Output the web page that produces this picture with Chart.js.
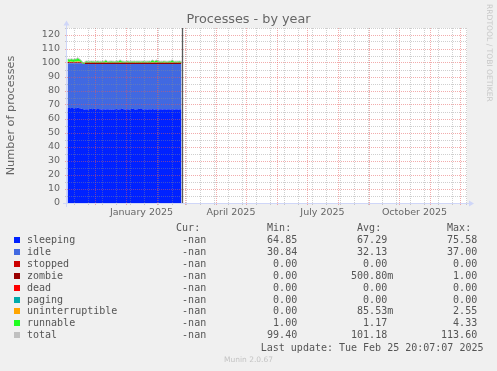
<!DOCTYPE html>
<html><head><meta charset="utf-8">
<script src="https://cdn.jsdelivr.net/npm/chart.js@4.4.1/dist/chart.umd.min.js"></script>
<style>
html,body{margin:0;padding:0;background:#f0f0f0;}
#wrap{position:relative;width:497px;height:371px;overflow:hidden;background:#f0f0f0;}
#c{position:absolute;left:0;top:0;}
.t{position:absolute;white-space:pre;}
#title{left:0;width:497px;top:10px;text-align:center;font-family:"DejaVu Sans";font-size:12.8px;line-height:18px;color:#666;}
#rrd{position:absolute;left:484.5px;top:4px;writing-mode:vertical-rl;font-family:"DejaVu Sans";font-size:7.6px;line-height:8px;color:#c8c8c8;white-space:pre;}
.lg{font-family:"DejaVu Sans Mono";font-size:10px;line-height:12px;height:12px;color:#555;}
.sq{position:absolute;width:6px;height:6px;}
#munin{left:0;width:497px;text-align:center;top:355px;font-family:"DejaVu Sans";font-size:7.5px;line-height:10px;color:#c4c4c4;}
</style>
</head><body>
<div id="wrap">
<canvas id="c" width="497" height="371" style="width:497px;height:371px"></canvas>
<div id="title" class="t">Processes - by year</div>
<div id="rrd">RRDTOOL / TOBI OETIKER</div>
<div id="legend"></div>
<div id="munin" class="t">Munin 2.0.67</div>
</div>
<script>
// ---- time axis ----
const axisStart = '2024-11-03';
const axisEnd = '2025-12-08';
const firstSample = '2024-11-03';
const lastUpdate = '2025-02-25T20:07:07Z';
const lastUpdateText = 'Last update: Tue Feb 25 20:07:07 2025';
const monthStarts = ['2024-12-01','2025-01-01','2025-02-01','2025-03-01','2025-04-01','2025-05-01','2025-06-01','2025-07-01','2025-08-01','2025-09-01','2025-10-01','2025-11-01','2025-12-01'];
const labelMonths = ['2025-01','2025-04','2025-07','2025-10'];
const labelTexts = ['January 2025','April 2025','July 2025','October 2025'];
const minorGridStart = '2024-11-10';
const minorGridStepDays = 14;
const yTickLabels = [0,10,20,30,40,50,60,70,80,90,100,110,120];

// ---- daily series (one value per day from firstSample) ----
const sleeping = [67.9,68.0,67.8,67.7,67.9,67.8,67.6,67.7,67.8,67.7,68.3,67.9,67.6,67.7,67.4,67.2,
66.9,66.8,66.9,67.0,66.9,66.8,67.2,67.3,67.1,66.9,
67.2,67.3,67.0,66.9,67.1,67.2,67.0,66.9,66.8,66.9,
67.0,66.9,66.8,66.9,67.0,66.9,66.8,66.9,66.8,66.9,
66.8,66.9,67.0,67.1,66.9,66.8,66.9,67.0,67.2,67.3,
67.0,66.9,66.8,66.9,67.0,66.9,66.8,66.9,67.2,67.3,
67.1,66.9,66.8,66.9,67.0,67.1,67.3,67.2,67.1,66.9,
66.8,66.9,67.0,66.9,66.8,66.9,67.0,66.9,66.8,67.1,
66.9,66.8,66.9,67.0,66.9,66.8,66.9,67.0,66.9,66.8,
66.9,67.0,66.9,66.8,66.9,67.0,66.9,66.8,66.9,67.0,
66.9,66.8,66.9,67.0,66.9,66.8,66.9,67.0,66.9];
const idle = [31.9,31.8,32.0,32.1,31.9,32.0,32.2,32.1,32.0,32.1,31.6,31.9,32.2,32.1,32.3,32.2,
32.3,32.4,32.3,32.2,32.3,32.4,32.0,31.9,32.1,32.3,
32.0,31.9,32.2,32.3,32.1,32.0,32.2,32.3,32.4,32.3,
32.2,32.3,32.4,32.3,32.2,32.3,32.4,32.3,32.4,32.3,
32.4,32.3,32.2,32.1,32.3,32.4,32.3,32.2,32.0,31.9,
32.2,32.3,32.4,32.3,32.2,32.3,32.4,32.3,32.0,31.9,
32.1,32.3,32.4,32.3,32.2,32.1,31.9,32.0,32.1,32.3,
32.4,32.3,32.2,32.3,32.4,32.3,32.2,32.3,32.4,32.1,
32.3,32.4,32.3,32.2,32.3,32.4,32.3,32.2,32.3,32.4,
32.3,32.2,32.3,32.4,32.3,32.2,32.3,32.4,32.3,32.2,
32.3,32.4,32.3,32.2,32.3,32.4,32.3,32.2,32.3];
const stopped = [0,0,0,0,0,0,0,0,0,0,0,0,0,0,0,0,0,0,0,0,0,0,0,0,0,0,0,0,0,0,0,0,0,0,0,0,0,0,0,0,
0,0,0,0,0,0,0,0,0,0,0,0,0,0,0,0,0,0,0,0,0,0,0,0,0,0,0,0,0,0,0,0,0,0,0,0,0,0,0,0,
0,0,0,0,0,0,0,0,0,0,0,0,0,0,0,0,0,0,0,0,0,0,0,0,0,0,0,0,0,0,0,0,0,0,0];
const zombie = [0.8,0.9,0.7,0.8,0.9,0.8,0.7,0.8,0.9,0.8,0.7,0.8,0.9,0.8,0.4,0.2,
0.0,0.3,1.0,1.0,1.0,0.9,1.0,1.0,1.0,1.0,
1.0,1.0,1.0,0.9,1.0,1.0,1.0,1.0,0.9,1.0,
1.0,1.0,1.0,1.0,0.9,1.0,1.0,1.0,1.0,1.0,
1.0,0.9,1.0,1.0,1.0,1.0,1.0,0.9,1.0,1.0,
1.0,1.0,0.9,1.0,1.0,1.0,1.0,1.0,1.0,0.9,
1.0,1.0,1.0,1.0,0.9,1.0,1.0,1.0,1.0,1.0,
1.0,0.9,1.0,1.0,1.0,1.0,1.0,0.9,1.0,1.0,
1.0,1.0,0.9,1.0,1.0,1.0,1.0,1.0,1.0,0.9,
1.0,1.0,1.0,1.0,0.9,1.0,1.0,1.0,1.0,1.0,
1.0,0.9,1.0,1.0,1.0,1.0,1.0,0.9,1.0];
const dead = [0,0,0,0,0,0,0,0,0,0,0,0,0,0,0,0,0,0,0,0,0,0,0,0,0,0,0,0,0,0,0,0,0,0,0,0,0,0,0,0,
0,0,0,0,0,0,0,0,0,0,0,0,0,0,0,0,0,0,0,0,0,0,0,0,0,0,0,0,0,0,0,0,0,0,0,0,0,0,0,0,
0,0,0,0,0,0,0,0,0,0,0,0,0,0,0,0,0,0,0,0,0,0,0,0,0,0,0,0,0,0,0,0,0,0,0];
const paging = [0,0,0,0,0,0,0,0,0,0,0,0,0,0,0,0,0,0,0,0,0,0,0,0,0,0,0,0,0,0,0,0,0,0,0,0,0,0,0,0,
0,0,0,0,0,0,0,0,0,0,0,0,0,0,0,0,0,0,0,0,0,0,0,0,0,0,0,0,0,0,0,0,0,0,0,0,0,0,0,0,
0,0,0,0,0,0,0,0,0,0,0,0,0,0,0,0,0,0,0,0,0,0,0,0,0,0,0,0,0,0,0,0,0,0,0];
const uninterruptible = [0.3,0.2,0.3,0.4,0.2,0.3,0.2,0.3,0.4,0.3,0.6,0.5,0.3,0.2,0.1,0.1,
0.05,0.05,0.1,0.05,0.05,0.05,0.05,0.1,0.05,0.05,
0.05,0.05,0.05,0.1,0.05,0.05,0.05,0.05,0.05,0.1,
0.05,0.05,0.2,0.1,0.05,0.05,0.05,0.05,0.05,0.05,
0.05,0.1,0.05,0.05,0.05,0.05,0.1,0.2,0.05,0.05,
0.05,0.05,0.05,0.05,0.1,0.05,0.05,0.05,0.05,0.05,
0.05,0.05,0.1,0.05,0.05,0.05,0.05,0.05,0.1,0.05,
0.05,0.05,0.05,0.05,0.1,0.05,0.05,0.05,0.1,0.2,
0.1,0.05,0.1,0.2,0.05,0.05,0.05,0.05,0.05,0.05,
0.05,0.1,0.05,0.05,0.05,0.05,0.05,0.05,0.1,0.2,
0.05,0.05,0.05,0.05,0.1,0.05,0.05,0.05,0.05];
const runnable = [1.8,2.0,1.9,1.7,2.1,1.8,1.9,2.0,1.8,1.9,2.6,2.2,1.8,1.6,1.2,1.1,
1.0,0.9,1.0,1.1,1.0,0.9,1.0,1.0,1.1,1.0,
1.0,0.9,1.0,1.0,1.1,1.0,0.9,1.0,1.0,1.1,
1.0,1.0,1.7,1.5,1.0,0.9,1.0,1.0,1.1,1.0,
1.0,0.9,1.0,1.0,1.1,1.0,1.6,1.8,1.2,1.0,
1.0,0.9,1.0,1.0,1.1,1.0,0.9,1.0,1.0,1.1,
1.0,1.0,0.9,1.0,1.1,1.0,1.0,0.9,1.0,1.0,
1.1,1.0,1.0,0.9,1.0,1.0,1.1,1.0,1.5,1.7,
1.4,1.0,1.6,1.8,1.2,1.0,1.0,0.9,1.0,1.0,
1.1,1.0,1.0,0.9,1.0,1.0,1.1,1.0,1.6,1.7,
1.2,1.0,1.0,0.9,1.0,1.0,1.1,1.0,1.0];
const total = [102.7,102.9,102.7,102.7,103.0,102.7,102.6,102.9,102.9,102.8,103.8,103.3,102.8,102.4,101.4,100.8,
100.3,100.5,101.3,101.4,101.3,101.1,101.3,101.3,101.4,101.3,
101.4,101.2,101.3,101.2,101.4,101.4,101.2,101.3,101.2,101.4,
101.3,101.4,102.0,101.8,101.2,101.2,101.3,101.4,101.4,101.3,
101.3,101.1,101.3,101.4,101.4,101.3,101.9,102.0,101.5,101.4,
101.3,101.2,101.2,101.3,101.4,101.4,101.2,101.3,101.3,101.3,
101.3,101.4,101.2,101.3,101.3,101.3,101.3,101.3,101.3,101.3,
101.4,101.2,101.3,101.3,101.3,101.3,101.4,101.2,101.8,102.1,
101.7,101.3,101.8,102.1,101.5,101.4,101.3,101.2,101.3,101.2,
101.4,101.4,101.3,101.2,101.2,101.3,101.4,101.4,101.9,102.0,
101.5,101.2,101.3,101.3,101.3,101.3,101.4,101.2,101.3];

// ---- legend table ----
const seriesNames = ['sleeping','idle','stopped','zombie','dead','paging','uninterruptible','runnable','total'];
const curVals = ['-nan','-nan','-nan','-nan','-nan','-nan','-nan','-nan','-nan'];
const minVals = ['64.85','30.84','0.00','0.00','0.00','0.00','0.00','1.00','99.40'];
const avgVals = ['67.29','32.13','0.00','500.80m','0.00','0.00','85.53m','1.17','101.18'];
const maxVals = ['75.58','37.00','0.00','1.00','0.00','0.00','2.55','4.33','113.60'];
const colHeads = ['Cur:','Min:','Avg:','Max:'];

// ---- styles (kept apart from data) ----
const seriesColors = ['#0022ff','#4169e1','#cc0000','#990000','#ff0000','#00aaaa','#ffa500','#22ff22','#c0c0c0'];

const DAY = 86400000;
const t0 = Date.parse(axisStart + 'T00:00:00Z');
const dayOf = s => (Date.parse(s.length === 10 ? s + 'T00:00:00Z' : s) - t0) / DAY;
const xMax = dayOf(axisEnd);
const firstX = dayOf(firstSample);

const xTickInfo = new Map();
for (let d = dayOf(minorGridStart); d <= xMax; d += minorGridStepDays) xTickInfo.set(d, {type: 'minor', label: ''});
monthStarts.forEach(s => xTickInfo.set(dayOf(s), {type: 'major', label: ''}));
labelMonths.forEach((m, i) => {
  const [y, mo] = m.split('-').map(Number);
  const a = (Date.UTC(y, mo - 1, 1) - t0) / DAY, b = (Date.UTC(y, mo, 1) - t0) / DAY;
  xTickInfo.set((a + b) / 2, {type: 'label', label: labelTexts[i]});
});
const xTickValues = [...xTickInfo.keys()].sort((a, b) => a - b);

const MGRID = 'rgba(230,90,90,0.5)';
const GRID = 'rgba(140,140,140,0.42)';

const stackSeries = [sleeping, idle, stopped, zombie, dead, paging, uninterruptible, runnable];
const toPts = arr => arr.map((v, i) => ({x: firstX + i + 0.5, y: v}));
const datasets = stackSeries.map((arr, k) => ({
  label: seriesNames[k],
  data: toPts(arr),
  backgroundColor: seriesColors[k],
  borderColor: 'rgba(0,0,0,0)',
  borderWidth: 0,
  pointRadius: 0,
  fill: k === 0 ? 'origin' : '-1',
  stack: 'procs',
  tension: 0
}));
datasets.push({
  label: seriesNames[8],
  data: toPts(total),
  borderColor: seriesColors[8],
  borderWidth: 1,
  pointRadius: 0,
  fill: false,
  stack: 'total',
  order: -1,
  tension: 0
});

const decor = {
  id: 'decor',
  beforeDraw(chart) {
    const {ctx, chartArea: a} = chart;
    ctx.save();
    ctx.fillStyle = '#f0f0f0';
    ctx.fillRect(0, 0, chart.width, chart.height);
    ctx.fillStyle = '#ffffff';
    ctx.fillRect(a.left, a.top, a.right - a.left, a.bottom - a.top);
    ctx.restore();
  },
  afterDraw(chart) {
    const {ctx, chartArea: a} = chart;
    const x = chart.scales.x;
    const px = Math.round(x.getPixelForValue(dayOf(lastUpdate))) + 0.5;
    ctx.save();
    ctx.strokeStyle = '#5a5a5a';
    ctx.lineWidth = 1.3;
    ctx.beginPath(); ctx.moveTo(px, a.top); ctx.lineTo(px, a.bottom); ctx.stroke();
    ctx.strokeStyle = '#CFD6F8';
    ctx.fillStyle = '#CFD6F8';
    ctx.lineWidth = 1;
    const yb = Math.round(a.bottom) + 0.5, xl = Math.round(a.left) - 0.5;
    ctx.beginPath(); ctx.moveTo(a.left - 4, yb); ctx.lineTo(a.right + 3, yb); ctx.stroke();
    ctx.beginPath(); ctx.moveTo(xl, a.bottom + 4); ctx.lineTo(xl, a.top - 3); ctx.stroke();
    ctx.beginPath(); ctx.moveTo(a.right + 2, yb - 3); ctx.lineTo(a.right + 7, yb); ctx.lineTo(a.right + 2, yb + 3); ctx.closePath(); ctx.fill();
    ctx.beginPath(); ctx.moveTo(xl - 3, a.top - 2.5); ctx.lineTo(xl, a.top - 7.5); ctx.lineTo(xl + 3, a.top - 2.5); ctx.closePath(); ctx.fill();
    ctx.restore();
  }
};

const tickFont = {family: 'DejaVu Sans', size: 9.5};
new Chart(document.getElementById('c'), {
  type: 'line',
  data: {datasets},
  plugins: [decor],
  options: {
    responsive: false,
    devicePixelRatio: 1,
    animation: false,
    layout: {padding: {left: 0, top: 28, right: 30, bottom: 148}},
    plugins: {legend: {display: false}, title: {display: false}, tooltip: {enabled: false}},
    scales: {
      x: {
        type: 'linear', min: 0, max: xMax,
        afterFit(s) { s.height = 20; },
        afterBuildTicks(s) { s.ticks = xTickValues.map(v => ({value: v})); },
        ticks: {autoSkip: false, maxRotation: 0, minRotation: 0, color: '#666', font: tickFont, padding: 2,
          callback: v => (xTickInfo.get(v) || {}).label || ''},
        grid: {
          z: 1, tickLength: 2,
          color: c => { const t = c.tick && xTickInfo.get(c.tick.value); return !t || t.type === 'label' ? 'rgba(0,0,0,0)' : (t.type === 'major' ? MGRID : GRID); },
          lineWidth: c => { const t = c.tick && xTickInfo.get(c.tick.value); return !t || t.type === 'label' ? 0 : 1; }
        },
        border: {display: false, dash: [1, 1]}
      },
      y: {
        type: 'linear', stacked: true, min: 0, max: 125,
        afterFit(s) { s.width = 67; },
        ticks: {stepSize: 5, autoSkip: false, color: '#666', font: tickFont, padding: 5,
          callback: v => (yTickLabels.includes(v) ? String(v) : '')},
        grid: {
          z: 1, tickLength: 2,
          color: c => (c.tick && c.tick.value % 10 === 0 ? MGRID : GRID),
          lineWidth: c => (c.tick && c.tick.value === 0 ? 0 : 1)
        },
        border: {display: false, dash: [1, 1]},
        title: {display: true, text: 'Number of processes', color: '#666', font: {family: 'DejaVu Sans', size: 11.3}, padding: {top: 4, bottom: 0}}
      }
    }
  }
});

// ---- HTML legend ----
const lg = document.getElementById('legend');
const colRight = [212.2, 303.2, 393.2, 483.2];
const fmt = s => (/[a-z]$/i.test(s) && s !== '-nan' ? s : s + ' ');
function addText(txt, top, opts) {
  const d = document.createElement('div');
  d.className = 't lg';
  d.textContent = txt;
  d.style.top = top + 'px';
  if (opts.left !== undefined) d.style.left = opts.left + 'px';
  if (opts.right !== undefined) { d.style.right = (497 - opts.right) + 'px'; d.style.textAlign = 'right'; }
  lg.appendChild(d);
}
const headTop = 222;
colHeads.forEach((h, j) => addText(h + '  ', headTop, {right: colRight[j]}));
seriesNames.forEach((n, i) => {
  const top = 234 + i * 11.9;
  const sq = document.createElement('div');
  sq.className = 'sq';
  sq.style.left = '14px';
  sq.style.top = (top + 3) + 'px';
  sq.style.background = seriesColors[i];
  lg.appendChild(sq);
  addText(n, top, {left: 27});
  [curVals, minVals, avgVals, maxVals].forEach((col, j) => addText(fmt(col[i]), top, {right: colRight[j]}));
});
addText(lastUpdateText, 341.7, {right: 483.5});
</script>
</body></html>
